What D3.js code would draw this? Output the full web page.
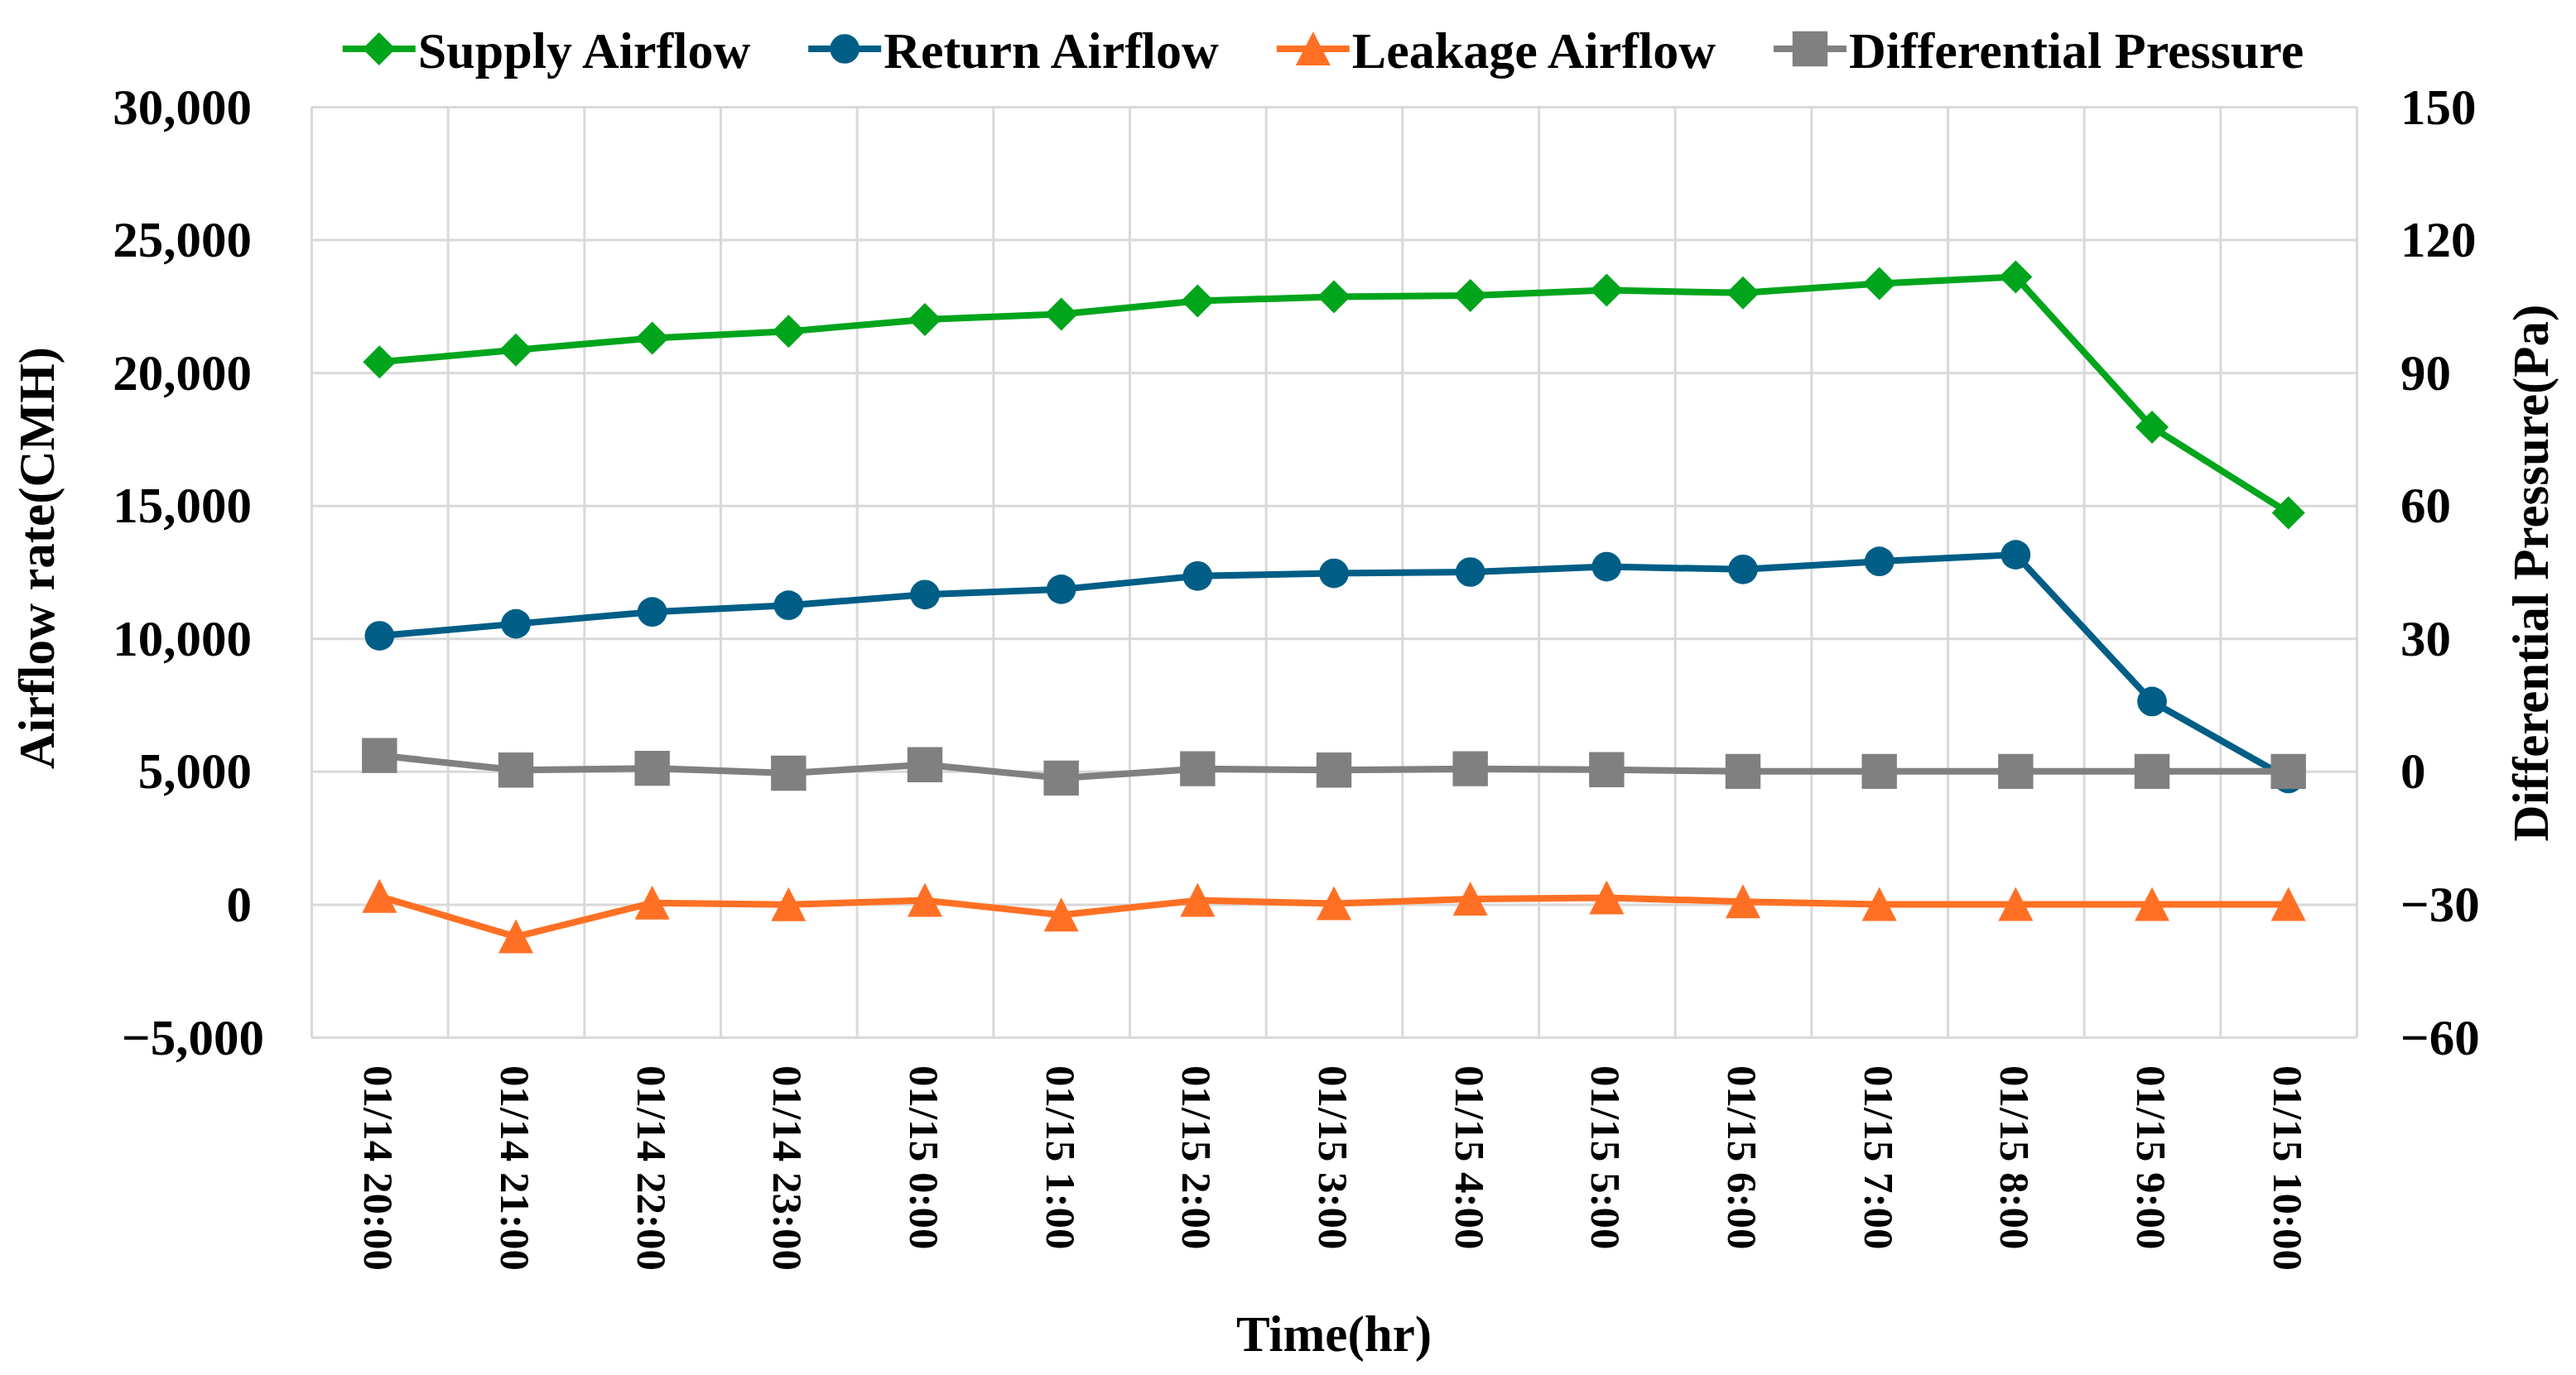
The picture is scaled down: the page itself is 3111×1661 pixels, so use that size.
<!DOCTYPE html>
<html>
<head>
<meta charset="utf-8">
<script src="https://cdn.jsdelivr.net/npm/d3@7"></script>
<style>
  body { margin: 0; background: #fff; }
  text { font-family: "Liberation Serif", "Times New Roman", serif; font-weight: bold; fill: #000; }
</style>
</head>
<body>
<svg id="chart" width="3111" height="1661"></svg>
<script>
// data
var times = ["01/14 20:00", "01/14 21:00", "01/14 22:00", "01/14 23:00", "01/15 0:00",
             "01/15 1:00", "01/15 2:00", "01/15 3:00", "01/15 4:00", "01/15 5:00",
             "01/15 6:00", "01/15 7:00", "01/15 8:00", "01/15 9:00", "01/15 10:00"];
var supplyAirflow  = [20400, 20850, 21300, 21550, 22000, 22200, 22700, 22850, 22900, 23100, 23000, 23350, 23600, 17950, 14730];
var returnAirflow  = [10100, 10550, 11000, 11250, 11650, 11850, 12350, 12450, 12500, 12700, 12600, 12900, 13150, 7630, 4730];
var leakageAirflow = [300, -1220, 50, -10, 150, -400, 150, 30, 200, 250, 100, 0, 0, 0, 0];
var diffPressure   = [3.6, 0.3, 0.7, -0.4, 1.5, -1.5, 0.6, 0.3, 0.6, 0.4, 0, 0, 0, 0, 0];
var leftTicks  = [-5000, 0, 5000, 10000, 15000, 20000, 25000, 30000];
var rightTicks = [-60, -30, 0, 30, 60, 90, 120, 150];

var svg = d3.select("#chart");
// plot area edges (window.top is reserved, so use own names)
var plotL = 376, plotR = 2846, plotT = 129, plotB = 1253;
var gridColor = "#d9d9d9";
var lineW = 8;

var x = d3.scaleBand().domain(times).range([plotL, plotR]);
var xEdge = d3.scaleLinear().domain([0, times.length]).range([plotL, plotR]);
var yL = d3.scaleLinear().domain([-5000, 30000]).range([plotB, plotT]);
var yR = d3.scaleLinear().domain([-60, 150]).range([plotB, plotT]);
var cx = function(i) { return x(times[i]) + x.bandwidth() / 2; };

// gridlines
var hGrid = svg.append("g")
  .attr("transform", "translate(" + plotL + ",0)")
  .call(d3.axisLeft(yL).tickValues(leftTicks).tickSize(-(plotR - plotL)).tickFormat(""));
var vGrid = svg.append("g")
  .attr("transform", "translate(0," + plotB + ")")
  .call(d3.axisBottom(xEdge).ticks(times.length).tickSize(-(plotB - plotT)).tickFormat(""));
[hGrid, vGrid].forEach(function(g) {
  g.select(".domain").remove();
  g.selectAll("line").attr("stroke", gridColor).attr("stroke-width", 3);
});

// left axis labels
var axL = svg.append("g")
  .attr("transform", "translate(" + plotL + ",0)")
  .call(d3.axisLeft(yL).tickValues(leftTicks).tickSize(0).tickFormat(d3.format(",")));
axL.select(".domain").remove();
axL.selectAll("text")
  .attr("x", function(d) { return d < 0 ? -57 : -72; })
  .attr("dy", "0.33em")
  .style("font-size", "61px");

// right axis labels
var axR = svg.append("g")
  .attr("transform", "translate(" + plotR + ",0)")
  .call(d3.axisRight(yR).tickValues(rightTicks).tickSize(0));
axR.select(".domain").remove();
axR.selectAll("text")
  .attr("x", 53)
  .attr("dy", "0.33em")
  .style("font-size", "61px");

// x axis labels (rotated)
var axX = svg.append("g")
  .attr("transform", "translate(0," + plotB + ")")
  .call(d3.axisBottom(x).tickSize(0));
axX.select(".domain").remove();
axX.selectAll("text")
  .attr("transform", "rotate(90)")
  .attr("x", 34)
  .attr("y", 0)
  .attr("dy", "0.35em")
  .attr("text-anchor", "start")
  .style("font-size", "51px");

// axis titles
svg.append("text")
  .attr("transform", "translate(65,674) rotate(-90)")
  .attr("text-anchor", "middle")
  .style("font-size", "61px")
  .text("Airflow rate(CMH)");
svg.append("text")
  .attr("transform", "translate(3077,692) rotate(-90)")
  .attr("text-anchor", "middle")
  .style("font-size", "61px")
  .text("Differential Pressure(Pa)");
svg.append("text")
  .attr("x", (plotL + plotR) / 2)
  .attr("y", 1632)
  .attr("text-anchor", "middle")
  .style("font-size", "61px")
  .text("Time(hr)");

// series
var triangle = "M0,-21L21,20L-21,20Z";
var series = [
  { name: "Supply Airflow", values: supplyAirflow, y: yL, color: "#00A51C",
    marker: d3.symbol().type(d3.symbolSquare).size(800)(), rot: 45 },
  { name: "Return Airflow", values: returnAirflow, y: yL, color: "#005E86",
    marker: d3.symbol().type(d3.symbolCircle).size(1000)(), rot: 0 },
  { name: "Leakage Airflow", values: leakageAirflow, y: yL, color: "#FF7024",
    marker: triangle, rot: 0 },
  { name: "Differential Pressure", values: diffPressure, y: yR, color: "#808080",
    marker: d3.symbol().type(d3.symbolSquare).size(1800)(), rot: 0 }
];

series.forEach(function(s) {
  var line = d3.line()
    .x(function(d, i) { return cx(i); })
    .y(function(d) { return s.y(d); });
  svg.append("path")
    .datum(s.values)
    .attr("d", line)
    .attr("fill", "none")
    .attr("stroke", s.color)
    .attr("stroke-width", lineW)
    .attr("stroke-linejoin", "round");
  svg.append("g").selectAll("path")
    .data(s.values)
    .join("path")
    .attr("d", s.marker)
    .attr("transform", function(d, i) {
      return "translate(" + cx(i) + "," + s.y(d) + ") rotate(" + s.rot + ")";
    })
    .attr("fill", s.color);
});

// legend
var legend = svg.append("g");
var items = legend.selectAll("g").data(series).join("g");
items.append("line")
  .attr("x1", 0).attr("x2", 88).attr("y1", 59).attr("y2", 59)
  .attr("stroke", function(d) { return d.color; })
  .attr("stroke-width", lineW);
items.append("path")
  .attr("d", function(d) { return d.marker; })
  .attr("transform", function(d) { return "translate(44,59) rotate(" + d.rot + ")"; })
  .attr("fill", function(d) { return d.color; });
items.append("text")
  .attr("x", 91)
  .attr("y", 82)
  .style("font-size", "62px")
  .text(function(d) { return d.name; });

var pos = 0, widths = [];
items.each(function() {
  var w = 91 + d3.select(this).select("text").node().getComputedTextLength();
  widths.push(w);
});
var total = d3.sum(widths) + 70 * (widths.length - 1);
var start = 1598 - total / 2;
items.attr("transform", function(d, i) {
  var tx = start + pos;
  pos += widths[i] + 70;
  return "translate(" + tx + ",0)";
});
</script>
</body>
</html>
